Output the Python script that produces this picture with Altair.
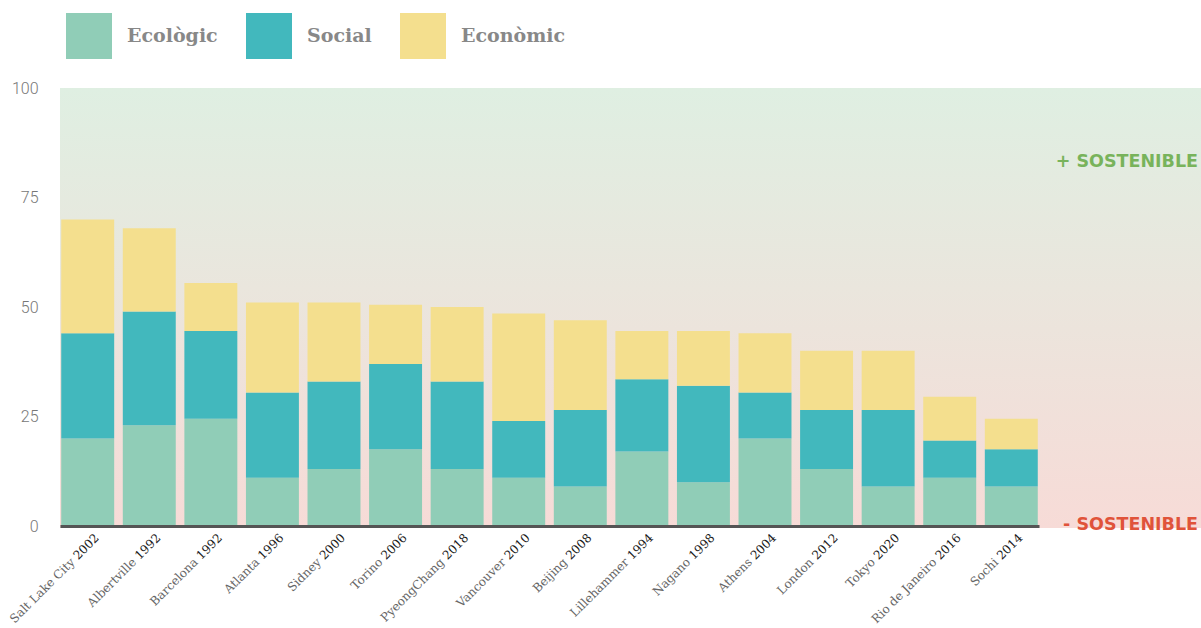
import altair as alt
import pandas as pd

cities = ["Salt Lake City", "Albertville", "Barcelona", "Atlanta", "Sidney", "Torino",
          "PyeongChang", "Vancouver", "Beijing", "Lillehammer", "Nagano", "Athens",
          "London", "Tokyo", "Rio de Janeiro", "Sochi"]
years = ["2002", "1992", "1992", "1996", "2000", "2006", "2018", "2010", "2008", "1994",
         "1998", "2004", "2012", "2020", "2016", "2014"]
ecologic = [20, 23, 24.5, 11, 13, 17.5, 13, 11, 9, 17, 10, 20, 13, 9, 11, 9]
social = [24, 26, 20, 19.5, 20, 19.5, 20, 13, 17.5, 16.5, 22, 10.5, 13.5, 17.5, 8.5, 8.5]
economic = [26, 19, 11, 20.5, 18, 13.5, 17, 24.5, 20.5, 11, 12.5, 13.5, 13.5, 13.5, 10, 7]

dims = ["Ecològic", "Social", "Econòmic"]
dim_colors = ["#90cdb7", "#42b8bd", "#f4df8e"]
y_ticks = [0, 25, 50, 75, 100]

labels = [f"{c} {y}" for c, y in zip(cities, years)]

rows = []
for i, lab in enumerate(labels):
    for k, (d, arr) in enumerate(zip(dims, [ecologic, social, economic])):
        rows.append({"label": lab, "dim": d, "value": arr[i], "idx": k})
df = pd.DataFrame(rows)
df_lab = pd.DataFrame({"label": labels, "city": cities, "year": years})

W, H = 1141, 438
LABEL_FS = 12
YEAR_W = 4 * 0.636 * LABEL_FS + 0.318 * LABEL_FS  # year + space width (DejaVu Serif)
DX0, DY0 = 8, 5

x_axis = alt.Axis(labels=False, ticks=False, title=None, domainColor="#555555",
                  domainWidth=3, zindex=1, grid=False)
x_enc = alt.X("label:N", sort=labels, axis=x_axis,
              scale=alt.Scale(range=[0, 979], paddingInner=0.14, paddingOuter=0.02))

bg = alt.Chart(alt.Data(values=[{}])).mark_rect(
    color=alt.LinearGradient(
        gradient="linear", x1=0, y1=0, x2=0, y2=1,
        stops=[alt.GradientStop(offset=0, color="#dfefe2"),
               alt.GradientStop(offset=1, color="#f7dbd7")])
).encode(x=alt.value(0), x2=alt.value(W), y=alt.value(0), y2=alt.value(H + 2))

bars = alt.Chart(df).mark_bar().encode(
    x=x_enc,
    y=alt.Y("value:Q", stack="zero", scale=alt.Scale(domain=[0, 100]),
            axis=alt.Axis(values=y_ticks, domain=False, ticks=False, grid=False,
                          labelFont="Roboto", labelFontSize=16, labelColor="#777777",
                          labelFontWeight=300, labelPadding=22, title=None)),
    color=alt.Color("dim:N", scale=alt.Scale(domain=dims, range=dim_colors),
                    legend=alt.Legend(orient="none", legendX=6, legendY=-75,
                                      direction="horizontal", title=None,
                                      symbolType="square", symbolSize=2116,
                                      symbolStrokeWidth=0, symbolOpacity=1,
                                      labelFont="DejaVu Serif", labelFontSize=19,
                                      labelFontWeight="bold", labelColor="#888888",
                                      labelOffset=15, columnPadding=28, padding=0)),
    order=alt.Order("idx:Q", sort="ascending"),
)

year_txt = alt.Chart(df_lab).mark_text(
    angle=315, align="right", baseline="middle", font="DejaVu Serif",
    fontSize=LABEL_FS, color="#1a1a1a", dx=DX0, dy=DY0
).encode(x=x_enc, y=alt.value(H + 12), text="year:N")

city_txt = alt.Chart(df_lab).mark_text(
    angle=315, align="right", baseline="middle", font="DejaVu Serif",
    fontSize=LABEL_FS, color="#666666", dx=DX0 - YEAR_W, dy=DY0
).encode(x=x_enc, y=alt.value(H + 12), text="city:N")

plus = alt.Chart(alt.Data(values=[{"t": "+ SOSTENIBLE"}])).mark_text(
    align="right", baseline="middle", font="DejaVu Sans", fontWeight="bold",
    fontSize=17.5, color="#78b35b"
).encode(x=alt.value(W - 3), y=alt.datum(83.2), text="t:N")

minus = alt.Chart(alt.Data(values=[{"t": "- SOSTENIBLE"}])).mark_text(
    align="right", baseline="middle", font="DejaVu Sans", fontWeight="bold",
    fontSize=17.5, color="#e0533a", dy=-1.5
).encode(x=alt.value(W - 3), y=alt.datum(0), text="t:N")

chart = alt.layer(bg, bars, year_txt, city_txt, plus, minus).properties(
    width=W, height=H,
    padding={"left": 60, "top": 88, "right": 0, "bottom": 102},
    autosize=alt.AutoSizeParams(type="none"),
    background="white",
).configure_view(stroke=None)

chart.save("out.html", embed_options={"renderer": "svg", "actions": False})
